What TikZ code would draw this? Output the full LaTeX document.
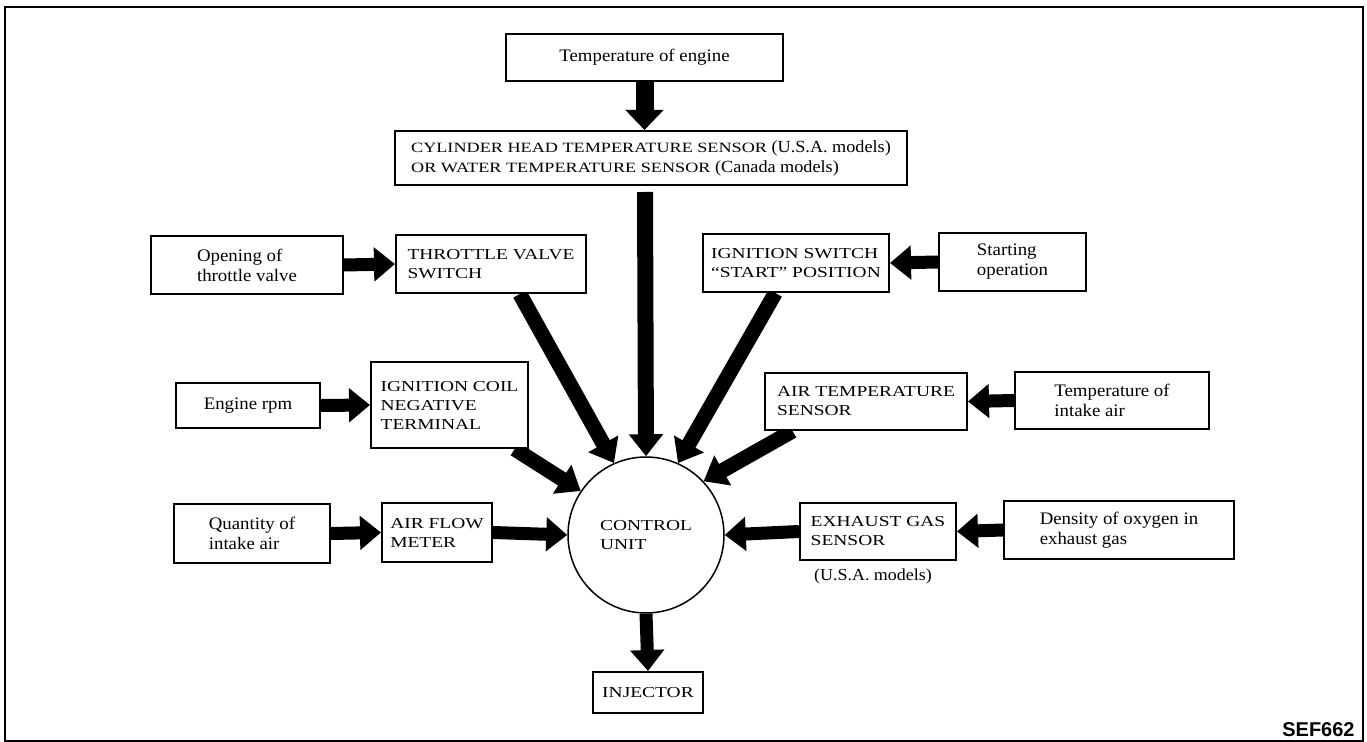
\documentclass[tikz,border=0pt]{standalone}
\usepackage{fontspec}
\setmainfont[FakeStretch=1.07]{Liberation Serif}
\newfontfamily\capsf[FakeStretch=1.28]{Liberation Serif}
\newfontfamily\sansf{Liberation Sans}
\usetikzlibrary{arrows.meta,calc}
\pgfdeclarelayer{background}
\pgfsetlayers{background,main}
\begin{document}
\begin{tikzpicture}[x=0.5pt,y=-0.5pt,
  box/.style={draw, line width=1pt, fill=white, inner sep=0pt, align=left},
  mixtext/.style={font=\fontsize{8.8}{10}\selectfont},
  captext/.style={font=\capsf\fontsize{7.6}{9.5}\selectfont},
  flow/.style={line width=6.5pt, -{Triangle[length=10.5pt,width=16.5pt]}},
  bigflow/.style={line width=9pt, -{Triangle[length=10pt,width=18.5pt]}},
  diagflow/.style={line width=7.5pt, -{Triangle[length=11pt,width=16.5pt]}},
  vertflow/.style={line width=8pt, -{Triangle[length=11pt,width=16.5pt]}}]
\useasboundingbox (0,0) rectangle (1367,742);
\draw[line width=1pt] (5,7) rectangle (1363,741);

% boxes
\node[box,mixtext,minimum width=138.5pt,minimum height=23.5pt] (teng) at (644.5,57.5) {Temperature of engine};
\node[box,font=\capsf\fontsize{7.1}{10}\selectfont,minimum width=256pt,minimum height=27pt] (cyl) at (651,158)
  {CYLINDER HEAD TEMPERATURE SENSOR {\rmfamily\fontsize{8.5}{10}\selectfont(U.S.A. models)}\\
   OR WATER TEMPERATURE SENSOR {\rmfamily\fontsize{8.5}{10}\selectfont(Canada models)}};
\node[box,mixtext,minimum width=96pt,minimum height=29pt] (open) at (247,265) {Opening of\\throttle valve};
\node[box,captext,minimum width=95pt,minimum height=29pt] (tvs) at (491,264) {THROTTLE VALVE\\SWITCH};
\node[box,captext,minimum width=93pt,minimum height=29pt] (iss) at (796,263) {IGNITION SWITCH\\“START” POSITION};
\node[box,mixtext,minimum width=73.5pt,minimum height=29pt] (sop) at (1012.5,262) {Starting\\operation};
\node[box,mixtext,minimum width=72pt,minimum height=22.5pt] (rpm) at (248,405.5) {Engine rpm};
\node[box,captext,minimum width=78.5pt,minimum height=43pt] (coil) at (449.5,405) {IGNITION COIL\\NEGATIVE\\TERMINAL};
\node[box,captext,minimum width=101pt,minimum height=28.5pt] (ats) at (866,401.5) {AIR TEMPERATURE\\SENSOR};
\node[box,mixtext,minimum width=97pt,minimum height=28.5pt] (tia) at (1112,400.5) {Temperature of\\intake air};
\node[box,mixtext,minimum width=78pt,minimum height=29.5pt] (qia) at (252,533.5) {Quantity of\\intake air};
\node[box,captext,minimum width=55pt,minimum height=29.5pt] (afm) at (437,532.5) {AIR FLOW\\METER};
\node[circle,draw,line width=0.75pt,fill=white,inner sep=0pt,minimum size=78pt,align=left,captext] (cu) at (646,535) {CONTROL\\UNIT};
\node[box,captext,minimum width=78pt,minimum height=28.5pt] (egs) at (878,531.5) {EXHAUST GAS\\SENSOR};
\node[box,mixtext,minimum width=115pt,minimum height=29pt] (dox) at (1119,530) {Density of oxygen in\\exhaust gas};
\node[box,captext,minimum width=55pt,minimum height=20.5pt] (inj) at (648,692.5) {INJECTOR};
\node[font=\fontsize{8.4}{10}\selectfont,inner sep=0pt] (usa) at (873,576) {(U.S.A. models)};
\node[font=\sansf\bfseries\fontsize{10}{12}\selectfont,anchor=base east,inner sep=0pt] (code) at (1355,737) {SEF662};

\coordinate (cylout) at (645,192);

\begin{pgfonlayer}{background}
\draw[bigflow] (teng.south) -- (teng.south |- cyl.north);
\draw[vertflow] (cylout) -- (cu.90);
\draw[flow] (open.east) -- (tvs.west);
\draw[flow] (sop.west) -- (iss.east);
\draw[flow] (rpm.east) -- (coil.west);
\draw[flow] (tia.west) -- (ats.east);
\draw[flow] (qia.east) -- (afm.west);
\draw[flow] (afm.east) -- (cu.west);
\draw[flow] (dox.west) -- (egs.east);
\draw[flow] (egs.west) -- (cu.east);
\draw[flow] (cu.south) -- (inj.north);
\draw[diagflow] ($(tvs.south west)!0.65!(tvs.south east)$) -- (cu.114);
\draw[diagflow] ($(iss.south west)!0.39!(iss.south east)$) -- (cu.66);
\draw[diagflow] ($(coil.south west)!0.91!(coil.south east)$) -- (cu.146);
\draw[diagflow] ($(ats.south west)!0.14!(ats.south east)$) -- (cu.43);
\end{pgfonlayer}
\end{tikzpicture}
\end{document}
